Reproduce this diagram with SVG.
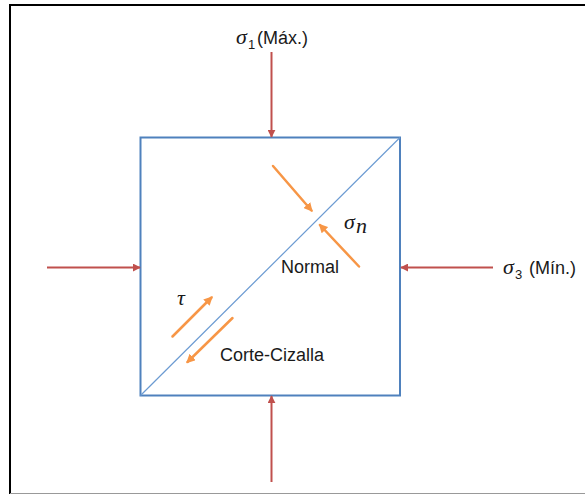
<svg xmlns="http://www.w3.org/2000/svg" width="585" height="495" viewBox="0 0 585 495">
<style>
.lbl{font-family:"Liberation Sans",Arial,sans-serif;font-size:18px;fill:#1a1a1a}
.gk{font-family:"Liberation Serif","DejaVu Serif",serif;font-style:italic;font-size:22px;fill:#1a1a1a}
.sub{font-family:"Liberation Sans",Arial,sans-serif;font-size:13px;fill:#1a1a1a}
.red{stroke:#C0504D;stroke-width:2;fill:none}
.org{stroke:#F79646;stroke-width:2.5;fill:none;stroke-linecap:round}
</style>
<defs>
<marker id="rh" viewBox="0 0 10 10" refX="9" refY="5" markerWidth="4" markerHeight="4" orient="auto" markerUnits="strokeWidth"><path d="M0,0 L10,5 L0,10 z" fill="#C0504D"/></marker>
<marker id="oh" viewBox="0 0 10 10" refX="8" refY="5" markerWidth="3.6" markerHeight="3.6" orient="auto" markerUnits="strokeWidth"><path d="M0,0 L10,5 L0,10 z" fill="#F79646"/></marker>
</defs>
<rect width="585" height="495" fill="#fff"/>
<g id="frame">
<line x1="9" y1="5" x2="585" y2="5" stroke="#000" stroke-width="2"/>
<line x1="10" y1="4" x2="10" y2="494" stroke="#000" stroke-width="2"/>
<line x1="10" y1="493.5" x2="585" y2="493.5" stroke="#999" stroke-width="1.2"/>
</g>
<g id="block">
<rect x="140.5" y="137.5" width="259.5" height="258" fill="none" stroke="#4F81BD" stroke-width="2"/>
<line x1="140.5" y1="395.5" x2="400" y2="137.5" stroke="#6C9BD2" stroke-width="1.2"/>
</g>
<g id="connectors">
<line class="red" x1="271.5" y1="52" x2="271.5" y2="137" marker-end="url(#rh)"/>
<line class="red" x1="271.5" y1="482" x2="271.5" y2="396" marker-end="url(#rh)"/>
<line class="red" x1="47" y1="267.5" x2="140" y2="267.5" marker-end="url(#rh)"/>
<line class="red" x1="493" y1="267.5" x2="401" y2="267.5" marker-end="url(#rh)"/>
<line class="org" x1="273" y1="166" x2="311.5" y2="210.5" marker-end="url(#oh)"/>
<line class="org" x1="359" y1="266.5" x2="320" y2="225" marker-end="url(#oh)"/>
<line class="org" x1="172.5" y1="336.5" x2="211.5" y2="297.5" marker-end="url(#oh)"/>
<line class="org" x1="232.5" y1="318" x2="187.5" y2="362" marker-end="url(#oh)"/>
</g>
<g id="label-sigma1">
<text x="236" y="44" class="gk">σ</text><text x="248" y="49" class="sub">1</text><text x="257" y="44" class="lbl">(Máx.)</text>
</g>
<g id="label-sigma3">
<text x="503" y="274" class="gk">σ</text><text x="515" y="279" class="sub">3</text><text x="529" y="274" class="lbl">(Mín.)</text>
</g>
<g id="label-sigman">
<text x="344" y="229" class="gk">σ</text><text x="356" y="233" class="gk" font-size="16">n</text>
</g>
<g id="label-normal"><text x="281" y="273" class="lbl">Normal</text></g>
<g id="label-tau"><text x="177" y="305" class="gk">τ</text></g>
<g id="label-corte"><text x="220" y="361" class="lbl">Corte-Cizalla</text></g>
</svg>
